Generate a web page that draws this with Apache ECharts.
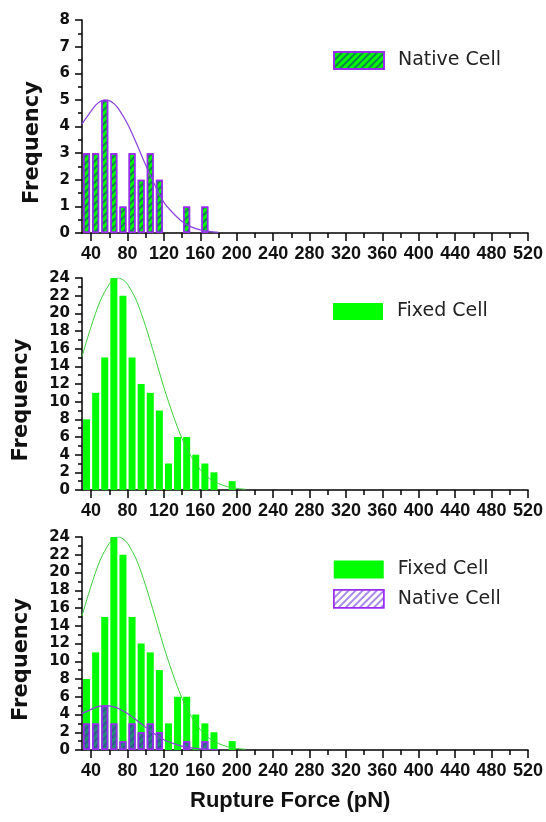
<!DOCTYPE html>
<html>
<head>
<meta charset="utf-8">
<script src="https://cdn.jsdelivr.net/npm/echarts@6/dist/echarts.min.js"></script>
<style>
html,body{margin:0;padding:0;background:#fff;}
#chart{width:546px;height:822px;}
</style>
</head>
<body>
<div id="chart"></div>
<script>
// ---- data ----
const binCenters   = [35, 45, 55, 65, 75, 85, 95, 105, 115, 125, 135, 145, 155, 165, 175, 185, 195];
const nativeCounts = [3, 3, 5, 3, 1, 3, 2, 3, 2, 0, 0, 1, 0, 1, 0, 0, 0];
const fixedCounts  = [8, 11, 15, 24, 22, 15, 12, 11, 9, 3, 6, 6, 4, 3, 2, 0, 1];

const nativeFitX = [30, 40, 45, 50, 55, 60, 65, 70, 80, 90, 100, 110, 120, 130, 140, 150, 160, 170, 180];
const nativeFitY = [4.1, 4.58, 4.8, 4.94, 5.0, 4.97, 4.86, 4.67, 4.1, 3.35, 2.55, 1.8, 1.15, 0.75, 0.43, 0.23, 0.12, 0.06, 0.02];

const fixedFitX = [30, 40, 50, 60, 65, 70, 75, 80, 90, 100, 110, 120, 130, 140, 150, 160, 170, 180, 190, 200, 210];
const fixedFitY = [15.1, 18.5, 21.4, 23.3, 23.8, 24, 23.8, 23.3, 21.4, 18.5, 15.1, 11.6, 8.5, 5.8, 3.8, 2.3, 1.3, 0.73, 0.37, 0.18, 0.08];

const xMajorTicks = [40, 80, 120, 160, 200, 240, 280, 320, 360, 400, 440, 480, 520];
const xMinorTicks = [60, 100, 140, 180, 220, 260, 300, 340, 380, 420, 460, 500];

const xTitle = 'Rupture Force (pN)';
const yTitle = 'Frequency';

// ---- helpers ----
function toBars(xs, ys) { return xs.map((x, i) => ys[i] > 0 ? [x, ys[i]] : null).filter(Boolean); }
function toLine(xs, ys) { return xs.map((x, i) => [x, ys[i]]); }

const GREEN = '#00ff00';
const PURPLE = '#9a2cf0';
const FITGREEN = '#3ccf3c';
const FITPURPLE = '#8b3fe0';

const grids = [
  {left: 82, right: 18, top: 20, height: 213},
  {left: 82, right: 18, top: 278, height: 212},
  {left: 82, right: 18, top: 537, height: 213}
];

const hatchDark = {symbol: 'rect', symbolSize: 1, color: 'rgba(20,80,110,0.7)', dashArrayX: [1, 0], dashArrayY: [1.5, 3], rotation: -Math.PI / 4};
const hatchLav  = {symbol: 'rect', symbolSize: 1, color: 'rgba(140,100,230,0.75)', dashArrayX: [1, 0], dashArrayY: [1.2, 3], rotation: -Math.PI / 4};
const hatchBlue = {symbol: 'rect', symbolSize: 1, color: 'rgba(70,40,170,0.55)', dashArrayX: [1, 0], dashArrayY: [1.2, 3], rotation: -Math.PI / 4};

function xMajor(gi) {
  return {
    type: 'value', gridIndex: gi, min: 30, max: 520, position: 'bottom',
    axisLine: {show: true, lineStyle: {color: '#000', width: 1.5}},
    axisTick: {show: true, customValues: xMajorTicks, length: 8, lineStyle: {color: '#000', width: 1.5}},
    axisLabel: {customValues: xMajorTicks, fontFamily: 'Liberation Sans', fontWeight: 'bold', fontSize: 18, color: '#111', margin: 12},
    splitLine: {show: false}
  };
}
function xMinor(gi) {
  return {
    type: 'value', gridIndex: gi, min: 30, max: 520, position: 'bottom',
    axisLine: {show: false},
    axisTick: {show: true, customValues: xMinorTicks, length: 5, lineStyle: {color: '#000', width: 1.5}},
    axisLabel: {show: false},
    splitLine: {show: false}
  };
}
function yAx(gi, max, interval) {
  return {
    type: 'value', gridIndex: gi, min: 0, max: max, interval: interval,
    axisLine: {show: true, lineStyle: {color: '#000', width: 1.5}},
    axisTick: {show: true, length: 7, lineStyle: {color: '#000', width: 1.5}},
    minorTick: {show: true, splitNumber: 2, length: 4, lineStyle: {color: '#000', width: 1.5}},
    axisLabel: {fontFamily: 'DejaVu Sans', fontWeight: 'bold', fontSize: 15, color: '#111', margin: 12},
    splitLine: {show: false},
    name: yTitle, nameLocation: 'middle', nameRotate: 90, nameGap: gi === 0 ? 39 : 50,
    nameTextStyle: {fontFamily: 'DejaVu Sans', fontWeight: 'bold', fontSize: 21, color: '#111', padding: [0, 32, 0, 0]}
  };
}

const legendText = {fontFamily: 'DejaVu Sans', fontSize: 19, color: '#222', padding: [0, 0, 0, 9]};
const nameMap = {nativeTop: 'Native Cell', fixedMid: 'Fixed Cell', fixedBot: 'Fixed Cell', nativeBot: 'Native Cell'};

const option = {
  animation: false,
  grid: grids,
  xAxis: [xMajor(0), xMajor(1), xMajor(2), xMinor(0), xMinor(1), xMinor(2)],
  yAxis: [yAx(0, 8, 1), yAx(1, 24, 2), yAx(2, 24, 2)],
  legend: [
    {left: 333, top: 51, padding: 0, itemWidth: 50, itemHeight: 17, selectedMode: false, icon: 'rect',
     data: ['nativeTop'], formatter: n => nameMap[n], textStyle: legendText},
    {left: 333, top: 302, padding: 0, itemWidth: 50, itemHeight: 17, selectedMode: false, icon: 'rect',
     data: ['fixedMid'], formatter: n => nameMap[n], textStyle: legendText},
    {left: 333, top: 560, padding: 0, itemWidth: 50, itemHeight: 18, itemGap: 10, orient: 'vertical', selectedMode: false, icon: 'rect',
     data: ['fixedBot', {name: 'nativeBot', itemStyle: {color: '#ffffff', borderColor: PURPLE, borderWidth: 1.5, decal: hatchLav}}],
     formatter: n => nameMap[n], textStyle: legendText}
  ],
  graphic: [
    {type: 'text', left: 190, top: 790, style: {text: xTitle, font: 'bold 22px "Liberation Sans"', fill: '#111'}}
  ],
  series: [
    {name: 'nativeTop', type: 'bar', xAxisIndex: 0, yAxisIndex: 0, barWidth: 7,
     data: toBars(binCenters, nativeCounts),
     itemStyle: {color: GREEN, borderColor: PURPLE, borderWidth: 1.5, decal: hatchDark}},
    {name: 'nativeTopFit', type: 'line', xAxisIndex: 0, yAxisIndex: 0, smooth: 0.3, symbol: 'none',
     data: toLine(nativeFitX, nativeFitY), lineStyle: {color: FITPURPLE, width: 1.2}},

    {name: 'fixedMid', type: 'bar', xAxisIndex: 1, yAxisIndex: 1, barWidth: 7,
     data: toBars(binCenters, fixedCounts), itemStyle: {color: GREEN}},
    {name: 'fixedMidFit', type: 'line', xAxisIndex: 1, yAxisIndex: 1, smooth: 0.3, symbol: 'none',
     data: toLine(fixedFitX, fixedFitY), lineStyle: {color: FITGREEN, width: 1}},

    {name: 'fixedBot', type: 'bar', xAxisIndex: 2, yAxisIndex: 2, barWidth: 7, barGap: '-100%',
     data: toBars(binCenters, fixedCounts), itemStyle: {color: GREEN}},
    {name: 'nativeBot', type: 'bar', xAxisIndex: 2, yAxisIndex: 2, barWidth: 7, barGap: '-100%',
     data: toBars(binCenters, nativeCounts),
     itemStyle: {color: 'rgba(50,90,170,0.7)', borderColor: PURPLE, borderWidth: 1.5, decal: hatchBlue}},
    {name: 'fixedBotFit', type: 'line', xAxisIndex: 2, yAxisIndex: 2, smooth: 0.3, symbol: 'none',
     data: toLine(fixedFitX, fixedFitY), lineStyle: {color: FITGREEN, width: 1}},
    {name: 'nativeBotFit', type: 'line', xAxisIndex: 2, yAxisIndex: 2, smooth: 0.3, symbol: 'none',
     data: toLine(nativeFitX, nativeFitY), lineStyle: {color: FITPURPLE, width: 1.2}}
  ]
};

const chart = echarts.init(document.getElementById('chart'), null, {renderer: 'canvas'});
chart.setOption(option);
</script>
</body>
</html>
